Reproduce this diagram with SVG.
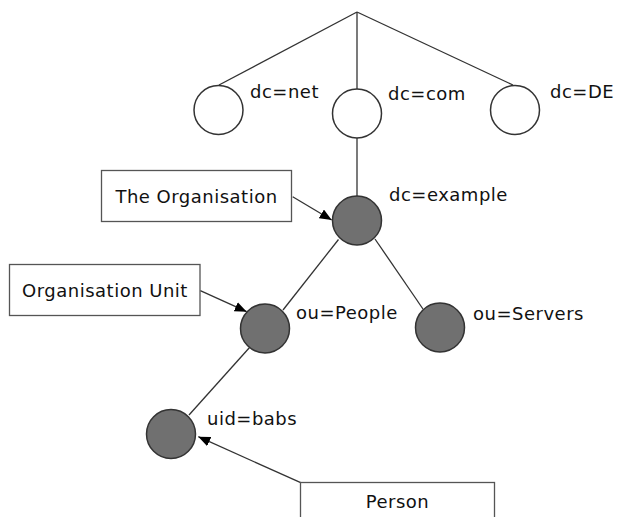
<svg xmlns="http://www.w3.org/2000/svg" width="617" height="517" viewBox="0 0 617 517">
<defs>
<style>
.edge{stroke:#333;stroke-width:1.3;fill:none}
.arrow{stroke:#333;stroke-width:1.3;fill:none;marker-end:url(#ah)}
.open{fill:#fff;stroke:#333;stroke-width:1.5}
.dark{fill:#707070;stroke:#333;stroke-width:1.5}
.box{fill:#fff;stroke:#555;stroke-width:1.3}
text{font-family:"DejaVu Sans","Liberation Sans",sans-serif;font-size:18px;letter-spacing:0.5px;fill:#111}
.bt{text-anchor:middle}
</style>
<marker id="ah" markerWidth="12" markerHeight="10" refX="12" refY="5" orient="auto" markerUnits="userSpaceOnUse">
<path d="M0,0 L12,5 L0,10 Z" fill="#000"/>
</marker>
</defs>
<rect width="617" height="517" fill="#fff"/>
<g id="connectors">
<line class="edge" x1="357" y1="12" x2="219" y2="85"/>
<line class="edge" x1="357" y1="12" x2="357" y2="89"/>
<line class="edge" x1="357" y1="12" x2="513" y2="85"/>
<line class="edge" x1="357" y1="138" x2="357" y2="196"/>
<line class="edge" x1="338.5" y1="239.5" x2="283" y2="310"/>
<line class="edge" x1="375" y1="239" x2="423" y2="309"/>
<line class="edge" x1="250" y1="347" x2="189" y2="415"/>
<line class="arrow" x1="292.7" y1="196.7" x2="331.7" y2="220"/>
<line class="arrow" x1="200.3" y1="290.7" x2="246.7" y2="311.7"/>
<line class="arrow" x1="300.7" y1="482.7" x2="198.3" y2="436.7"/>
</g>
<g id="dc-net"><circle class="open" cx="218.5" cy="110" r="24.5"/><text x="250" y="98">dc=net</text></g>
<g id="dc-com"><circle class="open" cx="357" cy="113.5" r="24.5"/><text x="388" y="100">dc=com</text></g>
<g id="dc-DE"><circle class="open" cx="515" cy="110" r="24.5"/><text x="550" y="98">dc=DE</text></g>
<g id="dc-example"><circle class="dark" cx="357" cy="220.5" r="24.5"/><text x="389" y="201">dc=example</text></g>
<g id="ou-People"><circle class="dark" cx="265" cy="328.5" r="24.5"/><text x="296" y="319">ou=People</text></g>
<g id="ou-Servers"><circle class="dark" cx="440" cy="327.5" r="24.5"/><text x="473" y="320">ou=Servers</text></g>
<g id="uid-babs"><circle class="dark" cx="171" cy="434" r="24.5"/><text x="207" y="425">uid=babs</text></g>
<g id="the-organisation"><rect class="box" x="101.5" y="170.5" width="190" height="51"/><text class="bt" x="196.5" y="203">The Organisation</text></g>
<g id="organisation-unit"><rect class="box" x="9.5" y="264.5" width="190.5" height="51"/><text class="bt" x="105" y="297">Organisation Unit</text></g>
<g id="person"><rect class="box" x="300.5" y="482.5" width="194" height="50"/><text class="bt" x="397.5" y="508">Person</text></g>
</svg>
